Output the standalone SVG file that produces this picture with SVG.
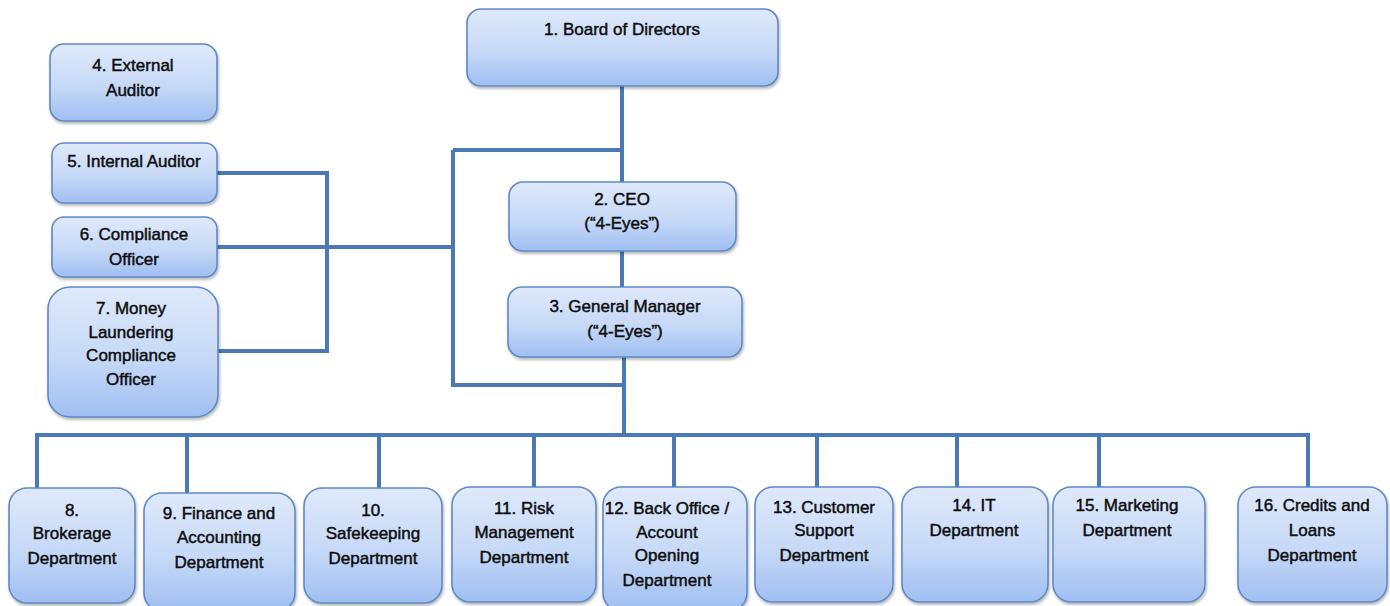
<svg xmlns="http://www.w3.org/2000/svg" width="1390" height="606" viewBox="0 0 1390 606">
<defs>
<linearGradient id="g" x1="0" y1="0" x2="0" y2="1">
<stop offset="0" stop-color="#dfe9fa"/>
<stop offset="0.55" stop-color="#c6d9f7"/>
<stop offset="1" stop-color="#9fbef1"/>
</linearGradient>
<filter id="sh" x="-10%" y="-10%" width="120%" height="130%">
<feDropShadow dx="1" dy="2" stdDeviation="1.5" flood-color="#000" flood-opacity="0.3"/>
</filter>
</defs>
<style>
.b{fill:url(#g);stroke:#5f89c6;stroke-width:1.6;filter:url(#sh)}
.t{font-family:"Liberation Sans",Arial,sans-serif;font-size:17px;fill:#0d0d0d;stroke:#0d0d0d;stroke-width:0.45;text-anchor:middle}
.c{fill:none;stroke:#4a79b5;stroke-width:4;stroke-linejoin:miter}
</style>
<rect width="1390" height="606" fill="#fff"/>
<g id="connectors">
<path class="c" d="M622 86V182M453 150H622M453 150V385H624M622 251V287M624 357V435"/>
<path class="c" d="M217 173H327V351H217M217 247H453"/>
<path class="c" d="M37 488V435H1308V487M187 435V493M379 435V488M534 435V487M674 435V487M817 435V487M957 435V487M1099 435V487"/>
</g>
<g id="n1"><rect class="b" x="467" y="9" width="311" height="77" rx="14"/><text class="t" x="622" y="35">1. Board of Directors</text></g>
<g id="n2"><rect class="b" x="509" y="182" width="227" height="69" rx="14"/><text class="t" x="622" y="205">2. CEO</text><text class="t" x="622" y="229">(“4-Eyes”)</text></g>
<g id="n3"><rect class="b" x="508" y="287" width="234" height="70" rx="14"/><text class="t" x="625" y="312">3. General Manager</text><text class="t" x="625" y="337">(“4-Eyes”)</text></g>
<g id="n4"><rect class="b" x="50" y="44" width="167" height="77" rx="14"/><text class="t" x="133" y="71">4. External</text><text class="t" x="133" y="96">Auditor</text></g>
<g id="n5"><rect class="b" x="52" y="143" width="165" height="60" rx="12"/><text class="t" x="134" y="167">5. Internal Auditor</text></g>
<g id="n6"><rect class="b" x="52" y="217" width="165" height="60" rx="12"/><text class="t" x="134" y="240">6. Compliance</text><text class="t" x="134" y="265">Officer</text></g>
<g id="n7"><rect class="b" x="48" y="287" width="170" height="130" rx="22"/><text class="t" x="131" y="314">7. Money</text><text class="t" x="131" y="338">Laundering</text><text class="t" x="131" y="361">Compliance</text><text class="t" x="131" y="385">Officer</text></g>
<g id="n8"><rect class="b" x="9" y="488" width="126" height="115" rx="18"/><text class="t" x="72" y="516">8.</text><text class="t" x="72" y="539">Brokerage</text><text class="t" x="72" y="564">Department</text></g>
<g id="n9"><rect class="b" x="144" y="493" width="151" height="118" rx="18"/><text class="t" x="219" y="519">9. Finance and</text><text class="t" x="219" y="543">Accounting</text><text class="t" x="219" y="568">Department</text></g>
<g id="n10"><rect class="b" x="304" y="488" width="138" height="115" rx="18"/><text class="t" x="373" y="516">10.</text><text class="t" x="373" y="539">Safekeeping</text><text class="t" x="373" y="564">Department</text></g>
<g id="n11"><rect class="b" x="452" y="487" width="144" height="115" rx="18"/><text class="t" x="524" y="514">11. Risk</text><text class="t" x="524" y="538">Management</text><text class="t" x="524" y="563">Department</text></g>
<g id="n12"><rect class="b" x="603" y="487" width="144" height="124" rx="18"/><text class="t" x="667" y="514">12. Back Office /</text><text class="t" x="667" y="538">Account</text><text class="t" x="667" y="561">Opening</text><text class="t" x="667" y="586">Department</text></g>
<g id="n13"><rect class="b" x="755" y="487" width="138" height="115" rx="18"/><text class="t" x="824" y="513">13. Customer</text><text class="t" x="824" y="536">Support</text><text class="t" x="824" y="561">Department</text></g>
<g id="n14"><rect class="b" x="902" y="487" width="146" height="115" rx="18"/><text class="t" x="974" y="511">14. IT</text><text class="t" x="974" y="536">Department</text></g>
<g id="n15"><rect class="b" x="1053" y="487" width="152" height="115" rx="18"/><text class="t" x="1127" y="511">15. Marketing</text><text class="t" x="1127" y="536">Department</text></g>
<g id="n16"><rect class="b" x="1238" y="487" width="149" height="115" rx="18"/><text class="t" x="1312" y="511">16. Credits and</text><text class="t" x="1312" y="536">Loans</text><text class="t" x="1312" y="561">Department</text></g>
</svg>
